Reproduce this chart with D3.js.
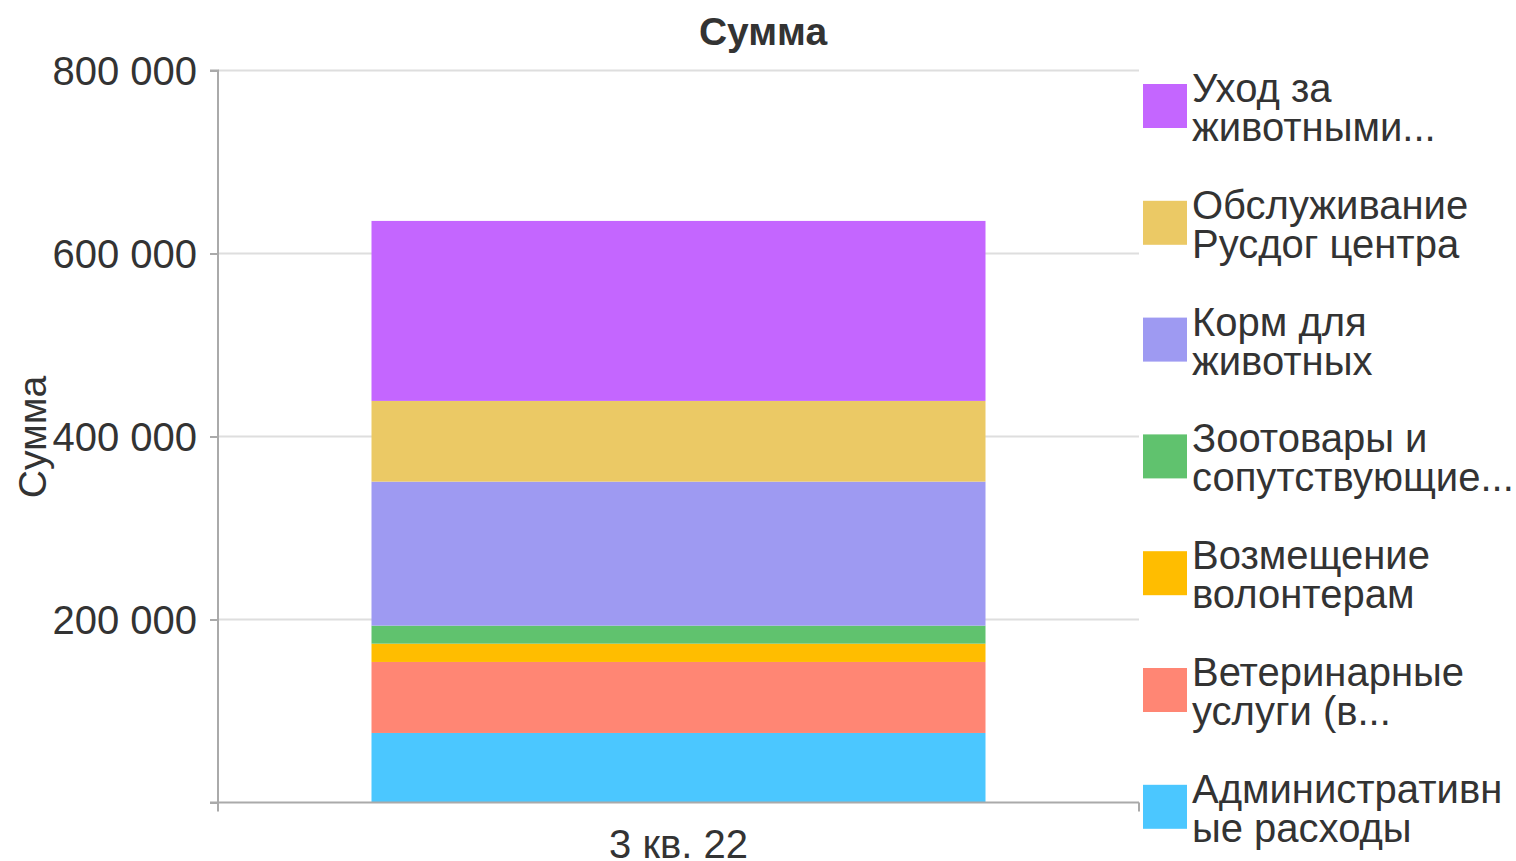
<!DOCTYPE html>
<html><head><meta charset="utf-8">
<script src="https://cdn.jsdelivr.net/npm/d3@7"></script>
<style>body{margin:0;background:#fff}svg{display:block}text{font-family:"Liberation Sans",Arial,sans-serif;fill:#333}</style>
</head><body><svg id="c" width="1516" height="861"></svg>
<script>
const categories = ["3 кв. 22"];
const seriesNames = ["Административные расходы","Ветеринарные услуги (в...","Возмещение волонтерам","Зоотовары и сопутствующие...","Корм для животных","Обслуживание Русдог центра","Уход за животными..."];
const legendLines = [["Административн","ые расходы"],["Ветеринарные","услуги (в..."],["Возмещение","волонтерам"],["Зоотовары и","сопутствующие..."],["Корм для","животных"],["Обслуживание","Русдог центра"],["Уход за","животными..."]];
const seriesValues = [76000, 77600, 20000, 19700, 157400, 88200, 196700];
const colors = ["#4bc7ff","#ff8674","#ffbd00","#60c26e","#9e9af2","#ebc965","#c466ff"];
const yTicks = [0,200000,400000,600000,800000];

const svg = d3.select("#c");
const L=218, R=1139, T=70.5, B=802.5;
const x = d3.scaleBand().domain(categories).range([L,R]).paddingInner(0).paddingOuter(0.5);
const y = d3.scaleLinear().domain([0,800000]).range([B,T]);
const fmt = v => v===0 ? "" : d3.format(",")(v).replace(/,/g," ");

// grid
svg.append("g").selectAll("line").data(yTicks.filter(d=>d>0)).join("line")
  .attr("x1",L).attr("x2",R).attr("y1",d=>y(d)).attr("y2",d=>y(d))
  .attr("stroke","#dedede").attr("stroke-width",2);

// stacked bars
const row = {cat:categories[0]}; seriesNames.forEach((n,i)=>row[n]=seriesValues[i]);
const stack = d3.stack().keys(seriesNames)([row]);
const barW = 614;
const cx = x(categories[0]) + x.bandwidth()/2;
svg.append("g").selectAll("rect").data(stack).join("rect")
  .attr("x", cx-barW/2).attr("width", barW)
  .attr("y", d=>y(d[0][1])).attr("height", d=>y(d[0][0])-y(d[0][1]))
  .attr("fill",(d,i)=>colors[i]);

// axes
const ya = d3.axisLeft(y).tickValues(yTicks).tickSize(8).tickPadding(13).tickFormat(fmt);
const gy = svg.append("g").attr("transform",`translate(${L},0)`).call(ya);
gy.select(".domain").attr("stroke","#aaa").attr("stroke-width",2).attr("d",`M-8,${T}H0V${B}H-8`);
gy.selectAll(".tick line").attr("stroke","#aaa").attr("stroke-width",2);
gy.selectAll(".tick text").style("font-size","40px").attr("fill","#333").attr("dy","0.35em");

const xa = d3.axisBottom(x).tickSize(0).tickPadding(27);
const gx = svg.append("g").attr("transform",`translate(0,${B})`).call(xa);
gx.select(".domain").attr("stroke","#aaa").attr("stroke-width",2).attr("d",`M${L},0H${R}`);
gx.selectAll(".tick text").style("font-size","40px").attr("fill","#333");
svg.append("g").selectAll("line").data([L,R]).join("line")
  .attr("x1",d=>d).attr("x2",d=>d).attr("y1",B).attr("y2",B+9).attr("stroke","#aaa").attr("stroke-width",2);

// title
svg.append("text").attr("x",763).attr("y",45).attr("text-anchor","middle")
  .style("font-size","39px").style("font-weight","bold").text("Сумма");
svg.append("text").attr("transform","translate(46,437) rotate(-90)").attr("text-anchor","middle")
  .style("font-size","39px").text("Сумма");

// legend (top to bottom reversed order)
const order = d3.range(seriesNames.length).reverse();
const lg = svg.append("g").selectAll("g").data(order).join("g")
  .attr("transform",(d,i)=>`translate(1143,${84+i*116.8})`);
lg.append("rect").attr("width",44).attr("height",44).attr("fill",d=>colors[d]);
lg.append("text").attr("x",49).attr("y",18).style("font-size","40px")
  .selectAll("tspan").data(d=>legendLines[d]).join("tspan")
  .attr("x",49).attr("dy",(d,i)=>i===0?"0":"39").text(d=>d);
</script></body></html>
